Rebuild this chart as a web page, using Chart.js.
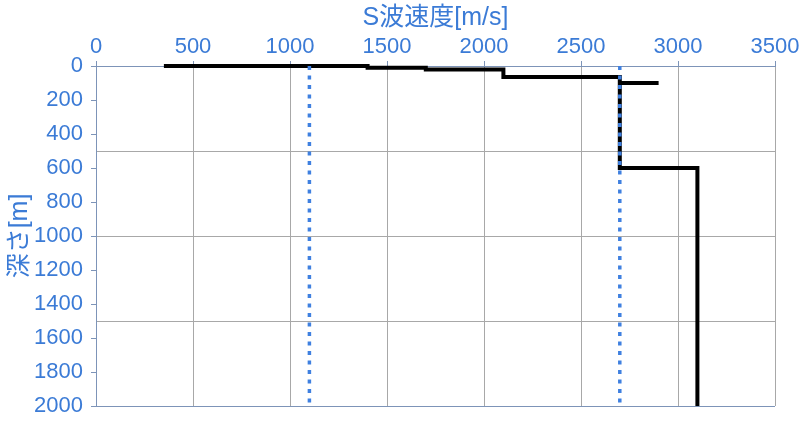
<!DOCTYPE html>
<html>
<head>
<meta charset="utf-8">
<script src="https://cdn.jsdelivr.net/npm/chart.js@4"></script>
<style>
  body { margin: 0; background: #fff; }
  #wrap { width: 809px; height: 423px; }
</style>
</head>
<body>
<div id="wrap"><canvas id="vsChart"></canvas></div>
<script>
// S-wave velocity profile (step line)
const velocity = [350, 1400, 1400, 1700, 1700, 2100, 2100, 2700, 2700, 2900, 2700, 2700, 3100, 3100];
const depth    = [0,   0,    10,   10,   20,   20,   65,   65,   100,  100,  100,  600,  600,  2000];

// reference lines (dotted blue)
const refVelocity = [1100, 2700];
const refDepth = [0, 2000];

const xTicks = [0, 500, 1000, 1500, 2000, 2500, 3000, 3500];
const yTicks = [0, 200, 400, 600, 800, 1000, 1200, 1400, 1600, 1800, 2000];
const yGrid = [500, 1000, 1500];

const blue = '#3b7bd6';
const axisColor = '#7d94b8';
const gridColor = '#a8a8a8';
const clear = 'rgba(0,0,0,0)';
const fontFamily = '"Liberation Sans", Arial, "Noto Sans CJK JP", sans-serif';

document.addEventListener('DOMContentLoaded', function () {
    const ctx = document.getElementById('vsChart');

    const refSets = refVelocity.map(function (v) {
        return {
            data: refDepth.map(d => ({ x: v, y: d })),
            showLine: true,
            borderColor: '#3f80e0',
            borderWidth: 3.5,
            borderDash: [4, 5.5],
            borderCapStyle: 'butt',
            pointRadius: 0,
            clip: false
        };
    });

    new Chart(ctx, {
        type: 'scatter',
        data: {
            datasets: refSets.concat([{
                data: velocity.map((v, i) => ({ x: v, y: depth[i] })),
                showLine: true,
                borderColor: '#000',
                borderWidth: 4,
                borderJoinStyle: 'miter',
                pointRadius: 0,
                clip: false
            }])
        },
        options: {
            responsive: true,
            maintainAspectRatio: false,
            animation: false,
            layout: {
                padding: { top: 0, left: 0, right: 34, bottom: 17 }
            },
            plugins: {
                legend: { display: false },
                tooltip: { enabled: false }
            },
            scales: {
                x: {
                    type: 'linear',
                    position: 'top',
                    min: 0,
                    max: 3500,
                    afterBuildTicks: function (scale) {
                        scale.ticks = xTicks.map(v => ({ value: v }));
                    },
                    afterFit: function (scale) {
                        scale.height = 66;
                        scale.paddingRight = 0;
                    },
                    border: { color: axisColor, width: 1 },
                    grid: {
                        color: gridColor,
                        tickColor: axisColor,
                        tickLength: 5
                    },
                    ticks: {
                        color: blue,
                        padding: 1,
                        autoSkip: false,
                        maxRotation: 0,
                        font: { family: fontFamily, size: 22 },
                        callback: v => String(v)
                    },
                    title: {
                        display: true,
                        text: 'S波速度[m/s]',
                        color: blue,
                        padding: { top: 3, bottom: 0 },
                        font: { family: fontFamily, size: 25 }
                    }
                },
                y: {
                    type: 'linear',
                    reverse: true,
                    min: 0,
                    max: 2000,
                    afterBuildTicks: function (scale) {
                        const all = yTicks.concat(yGrid.filter(v => yTicks.indexOf(v) < 0));
                        all.sort((a, b) => a - b);
                        scale.ticks = all.map(v => ({ value: v }));
                    },
                    afterFit: function (scale) {
                        scale.width = 96;
                        scale.paddingTop = 0;
                        scale.paddingBottom = 0;
                    },
                    border: { color: axisColor, width: 1 },
                    grid: {
                        color: function (c) {
                            const v = c.tick.value;
                            if (v === 2000) return axisColor;
                            return yGrid.indexOf(v) >= 0 ? gridColor : clear;
                        },
                        tickColor: function (c) {
                            return yTicks.indexOf(c.tick.value) >= 0 ? axisColor : clear;
                        },
                        tickLength: 5
                    },
                    ticks: {
                        color: blue,
                        padding: 8,
                        autoSkip: false,
                        font: { family: fontFamily, size: 22 },
                        callback: v => (yTicks.indexOf(v) >= 0 ? String(v) : '')
                    },
                    title: {
                        display: true,
                        text: '深さ[m]',
                        color: blue,
                        padding: { top: 5, bottom: 0 },
                        font: { family: fontFamily, size: 25 }
                    }
                }
            }
        }
    });
});
</script>
</body>
</html>
